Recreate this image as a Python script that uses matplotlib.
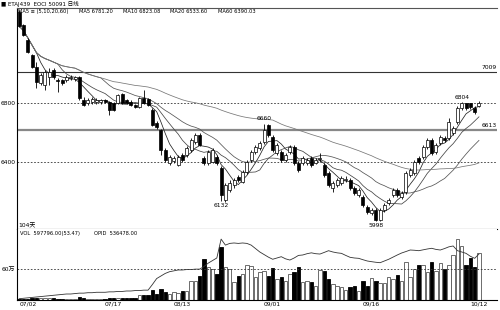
import numpy as np
import pandas as pd
import matplotlib
matplotlib.use("Agg")
import matplotlib.pyplot as plt
import matplotlib.transforms as mtransforms

plt.rcParams['font.family'] = ['DejaVu Sans', 'Noto Sans CJK SC']

# daily OHLC (price)
opens = [7418, 7330, 7228, 7126, 7044, 6936, 6922, 6976, 7024, 6956,
         6956, 6956, 6970, 6963, 6976, 6820, 6800, 6806, 6806, 6806,
         6820, 6806, 6800, 6800, 6861, 6820, 6806, 6786, 6772, 6834,
         6827, 6752, 6664, 6616, 6480, 6392, 6405, 6378, 6446, 6446,
         6480, 6534, 6582, 6426, 6392, 6398, 6432, 6358, 6140, 6208,
         6242, 6296, 6262, 6330, 6412, 6466, 6494, 6534, 6650, 6568,
         6460, 6466, 6412, 6466, 6500, 6392, 6392, 6392, 6426, 6392,
         6419, 6378, 6324, 6222, 6242, 6256, 6276, 6276, 6222, 6174,
         6160, 6092, 6052, 6072, 6004, 6072, 6120, 6174, 6208, 6160,
         6194, 6310, 6324, 6426, 6432, 6500, 6548, 6466, 6528, 6562,
         6562, 6596, 6670, 6766, 6800, 6800, 6766, 6780]
closes = [7323, 7262, 7146, 7044, 6942, 6990, 7010, 7010, 6976, 6949,
          6936, 6976, 6976, 6976, 6834, 6786, 6820, 6827, 6820, 6820,
          6806, 6752, 6752, 6854, 6800, 6800, 6786, 6772, 6834, 6800,
          6786, 6650, 6636, 6480, 6412, 6432, 6426, 6432, 6412, 6494,
          6548, 6582, 6514, 6392, 6466, 6480, 6392, 6174, 6242, 6256,
          6276, 6276, 6330, 6398, 6466, 6500, 6528, 6616, 6582, 6480,
          6514, 6412, 6446, 6500, 6392, 6344, 6426, 6412, 6378, 6412,
          6426, 6310, 6242, 6256, 6276, 6290, 6283, 6222, 6188, 6208,
          6106, 6058, 6072, 6004, 6072, 6106, 6140, 6208, 6174, 6188,
          6324, 6344, 6398, 6398, 6500, 6548, 6460, 6514, 6568, 6548,
          6670, 6630, 6766, 6800, 6766, 6772, 6738, 6800]
highs = [7432, 7337, 7242, 7133, 7078, 7004, 7024, 7038, 7038, 6970,
         6963, 6990, 6990, 6983, 6983, 6840, 6834, 6840, 6834, 6827,
         6827, 6813, 6806, 6861, 6868, 6827, 6820, 6793, 6840, 6888,
         6834, 6766, 6677, 6623, 6494, 6446, 6439, 6446, 6460, 6507,
         6562, 6596, 6596, 6439, 6480, 6494, 6446, 6371, 6256, 6276,
         6290, 6310, 6344, 6412, 6480, 6514, 6541, 6660, 6657, 6582,
         6528, 6480, 6460, 6514, 6514, 6405, 6439, 6426, 6439, 6426,
         6460, 6392, 6337, 6269, 6290, 6303, 6303, 6290, 6235, 6222,
         6174, 6106, 6086, 6086, 6086, 6120, 6154, 6222, 6222, 6201,
         6337, 6358, 6412, 6439, 6514, 6562, 6562, 6528, 6582, 6575,
         6698, 6643, 6779, 6804, 6800, 6800, 6779, 6815]
lows = [7316, 7255, 7140, 7038, 6902, 6922, 6888, 6922, 6963, 6874,
        6922, 6942, 6956, 6949, 6820, 6779, 6786, 6793, 6793, 6793,
        6800, 6718, 6745, 6793, 6793, 6793, 6779, 6766, 6766, 6793,
        6779, 6643, 6623, 6446, 6398, 6378, 6392, 6371, 6398, 6432,
        6466, 6521, 6507, 6378, 6378, 6392, 6378, 6132, 6126, 6194,
        6222, 6262, 6256, 6317, 6398, 6453, 6480, 6521, 6568, 6466,
        6446, 6398, 6398, 6453, 6378, 6330, 6378, 6378, 6364, 6385,
        6398, 6296, 6228, 6194, 6228, 6242, 6262, 6208, 6174, 6160,
        6092, 6045, 6038, 5998, 6000, 6058, 6106, 6160, 6160, 6147,
        6181, 6296, 6310, 6385, 6419, 6487, 6446, 6453, 6514, 6534,
        6548, 6582, 6657, 6752, 6752, 6759, 6725, 6772]

# volume and open interest (万)
volume = [1.5, 2, 2.5, 3, 3.5, 4, 3.5, 3, 3, 2.5,
          2.5, 2, 2, 2.5, 6.5, 4, 2.5, 2, 2, 2.5,
          2.5, 3, 3, 4, 3.5, 3, 3, 3.5, 9.5, 9.5,
          9.5, 19, 11.5, 21, 15.5, 12, 15.5, 13, 17.5, 17.5,
          37, 37, 46.5, 79.5, 64, 60, 50, 103, 64, 60,
          35, 46.5, 50, 68, 66, 45, 54, 56, 46.5, 62,
          41, 45, 37, 50, 54, 64, 35, 37, 35, 27,
          58, 56, 41, 31, 27, 25, 19, 25, 27, 17.5,
          37, 27, 43, 37, 33, 33, 45, 41, 48.5, 37,
          74, 45, 60, 68, 68, 54, 74, 56, 72, 60,
          68, 87, 118, 105, 68, 81.5, 64, 91]
open_int = [1.5, 2, 2.5, 3, 3.5, 4, 4.5, 5, 5.5, 6,
            6.5, 7, 7, 7.5, 8, 8, 8.5, 8.5, 9, 9,
            9, 9.5, 9.5, 10, 10, 10.5, 10.5, 11, 11, 11.5, 11.5,
            18, 25, 28, 31, 33, 34, 35, 35, 35.5, 35.5, 36, 36,
            39, 43, 46, 49, 71, 64, 66, 66.5, 66, 66.5, 66, 64,
            60, 56, 53, 50, 47.5, 49, 50.5, 48, 46.6, 49, 52, 52.5, 54, 55, 54,
            53.6, 55.5, 57.5, 56, 55, 54.4, 52, 49.8, 49, 48.6, 47, 45.5, 44.7, 44, 43.5,
            45.5, 47.5, 50, 52.5, 54.8, 56.5, 58.3, 58, 57.5, 58.5, 59.5, 60.3, 59, 58.3, 60,
            62, 63, 57.5, 56, 54.4, 51, 48.6, 53.6]

date_idx = [0, 20, 36, 57, 80, 105]
date_labels = ['07/02', '07/17', '08/13', '09/01', '09/16', '10/12']
level_solid = [7009, 6613]
level_dash = [6800, 6400]
mark_idx = [57, 47, 83, 103]
mark_kind = ['high', 'low', 'low', 'high']

df = pd.DataFrame({'o': opens, 'h': highs, 'l': lows, 'c': closes,
                   'v': volume, 'oi': open_int})
x = np.arange(len(df))
up = df.c >= df.o

fig = plt.figure(figsize=(5, 3.1), dpi=100)
ax = fig.add_axes([17/500, 1-229/310, 480/500, 221/310])
axv = fig.add_axes([17/500, 1-300/310, 480/500, 71/310])

# candles
ax.vlines(x, df.l, df.h, color='black', lw=0.6, zorder=3)
ax.bar(x, np.maximum((df.c-df.o).abs(), 3), bottom=np.minimum(df.o, df.c),
       width=0.7, color=np.where(up, 'white', 'black'), edgecolor='black',
       linewidth=0.5, zorder=4)

# moving averages
for n, col in [(5, '#222222'), (10, '#444444'), (20, '#555555'), (60, '#777777')]:
    ax.plot(x, df.c.rolling(n, min_periods=1).mean(), color=col, lw=0.55, zorder=2)

ax.axhline(level_solid[0], color='#333333', lw=0.8, zorder=1)
ax.axhline(level_solid[1], color='#888888', lw=1.6, zorder=1)
for lv in level_dash:
    ax.axhline(lv, color='#333333', lw=0.6, ls=(0, (2, 2)), zorder=1)

trans = mtransforms.blended_transform_factory(ax.transAxes, ax.transData)
for lv in level_solid:
    ax.text(1.0, lv + 15, str(lv), transform=trans, ha='right', va='bottom', fontsize=4.3)

for i, k in zip(mark_idx, mark_kind):
    if k == 'high':
        ax.text(i, df.h[i] + 15, str(df.h[i]), ha='center', va='bottom', fontsize=4.3)
    else:
        ax.text(i, df.l[i] - 15, str(df.l[i]), ha='center', va='top', fontsize=4.3)

ax.set_xlim(-0.5, 111.2)
ax.set_ylim(5943, 7446)
ax.set_yticks(level_dash)
ax.set_yticklabels([str(v) for v in level_dash], fontsize=4.3)
ax.set_xticks([])
ax.tick_params(axis='y', length=0, pad=1)
ax.spines['right'].set_visible(False)
ax.spines['top'].set_color('#555555')
for s in ax.spines.values():
    s.set_linewidth(0.8)

hdr = 3.7
ax.text(0.003, 0.995, 'MA5 ≡ (5,10,20,60)', transform=ax.transAxes, va='top', fontsize=hdr)
ax.text(0.13, 0.995, 'MA5 6781.20', transform=ax.transAxes, va='top', fontsize=hdr)
ax.text(0.22, 0.995, 'MA10 6823.08', transform=ax.transAxes, va='top', fontsize=hdr)
ax.text(0.318, 0.995, 'MA20 6533.60', transform=ax.transAxes, va='top', fontsize=hdr)
ax.text(0.418, 0.995, 'MA60 6390.03', transform=ax.transAxes, va='top', fontsize=hdr)
ax.text(0.003, 0.005, '104天', transform=ax.transAxes, va='bottom', fontsize=4.3)
fig.text(0.002, 1-4/310, '■ ETAJ439  EOCI 50091 日线', va='center', fontsize=4.0)

# volume panel
axv.bar(x, df.v, width=0.8, color=np.where(up, 'white', 'black'),
        edgecolor=np.where(up, '#555555', 'black'), linewidth=0.6)
axv.axhline(60, color='#333333', lw=0.6, ls=(0, (2, 2)))
axv.set_xlim(-0.5, 111.2)
axv.set_ylim(0, 137.4)
axv.set_yticks([60])
axv.set_yticklabels(['60万'], fontsize=4.3)
axv.set_xticks(date_idx)
axv.set_xticklabels(date_labels, fontsize=4.3, ha='left')
axv.tick_params(length=0, pad=1)
axv.spines['right'].set_visible(False)
axv.spines['top'].set_visible(False)
for s in axv.spines.values():
    s.set_linewidth(0.8)
axv.text(0.006, 0.97, 'VOL  597796.00(53.47)', transform=axv.transAxes, va='top', fontsize=hdr)
axv.text(0.16, 0.97, 'OPID  536478.00', transform=axv.transAxes, va='top', fontsize=hdr)

axo = axv.twinx()
axo.plot(x, df.oi, color='#333333', lw=0.6)
axo.set_ylim(0, 82.8)
axo.set_yticks([])
for s in axo.spines.values():
    s.set_visible(False)

fig.savefig('out.png', dpi=100)
